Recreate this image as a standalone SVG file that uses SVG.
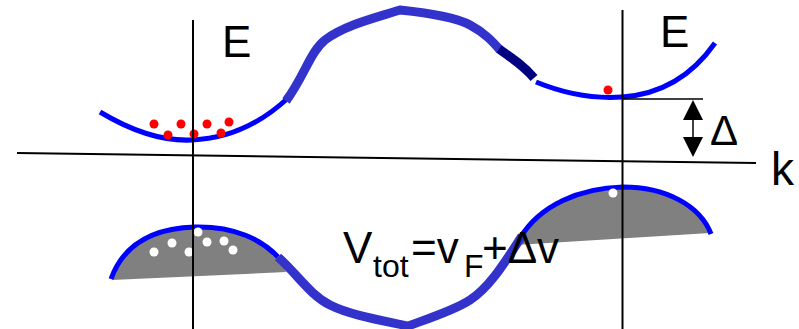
<svg xmlns="http://www.w3.org/2000/svg" width="799" height="329" viewBox="0 0 799 329">
<style>
.band{fill:none;stroke:#0000ff;stroke-width:5;stroke-linecap:butt}
.thick{fill:none;stroke:#3333cc;stroke-width:9;stroke-linejoin:miter}
.navy{fill:none;stroke:#000080;stroke-width:9}
.fill{fill:#808080;stroke:none}
.axis{stroke:#000;stroke-width:2;fill:none}
.ref{stroke:#000;stroke-width:1.5;fill:none}
.red{fill:#ff0000}
.white{fill:#ffffff}
text{font-family:"Liberation Sans",Arial,sans-serif;fill:#000}
</style>
<g id="valence-left">
<path class="fill" d="M112,280 C125,240 160,228 195,227 C235,226 262,240 281,261 L286,272 Z"/>
<path class="band" d="M111,279 C125,240 160,228 195,227 C235,226 262,240 278,257"/>
<circle class="white" cx="154" cy="252" r="4.5"/>
<circle class="white" cx="172" cy="243" r="4.5"/>
<circle class="white" cx="189" cy="252" r="4.5"/>
<circle class="white" cx="198" cy="232" r="4.5"/>
<circle class="white" cx="207" cy="242" r="4.5"/>
<circle class="white" cx="224" cy="241" r="4.5"/>
<circle class="white" cx="233" cy="250" r="4.5"/>
</g>
<g id="valence-right">
<path class="fill" d="M516,245 C535,208 580,190 623,189 C665,189 700,207 710,233 Z"/>
<path class="band" d="M520,238 C540,205 580,188 623,187 C665,187 700,205 711,234"/>
<circle class="white" cx="613" cy="193" r="4.5"/>
</g>
<g id="conduction-left">
<path class="band" d="M100,112 Q150,142 192,140 Q245,138 288,98"/>
<circle class="red" cx="154" cy="124" r="4.5"/>
<circle class="red" cx="168" cy="135" r="4.5"/>
<circle class="red" cx="181" cy="124" r="4.5"/>
<circle class="red" cx="194" cy="134" r="4.5"/>
<circle class="red" cx="207" cy="124" r="4.5"/>
<circle class="red" cx="221" cy="133" r="4.5"/>
<circle class="red" cx="229" cy="122" r="4.5"/>
</g>
<g id="conduction-right">
<path class="band" d="M536,82 Q580,100 622,97 Q680,93 715,43"/>
<circle class="red" cx="608" cy="90" r="4.5"/>
</g>
<g id="connectors">
<path class="thick" d="M286,101 C305,75 310,52 325,40 C345,25 375,18 400,10 C430,13 455,17 470,25 C485,33 493,42 500,50"/>
<path class="navy" d="M499,49 C512,58 524,66 534,78"/>
<path class="thick" d="M278,257 C298,275 310,295 330,305 C350,315 380,320 408,326 C430,318 455,310 470,300 C490,287 505,262 522,236"/>
<line class="axis" x1="17" y1="153" x2="756" y2="163"/>
<line class="axis" x1="193" y1="20" x2="193" y2="329"/>
<line class="axis" x1="622.5" y1="10" x2="622.5" y2="329"/>
<line class="ref" x1="622" y1="99" x2="703" y2="99"/>
<line class="ref" x1="693" y1="115" x2="693" y2="142"/>
<polygon points="693,100 683,120 703,120" fill="#000"/>
<polygon points="693,157 683,137 703,137" fill="#000"/>
</g>
<g id="labels">
<text x="222" y="57" font-size="44">E</text>
<text x="660" y="47" font-size="44">E</text>
<text x="771" y="185" font-size="46">k</text>
<text x="710" y="145" font-size="42">Δ</text>
<text font-size="44"><tspan x="343" y="263">V</tspan><tspan x="373" y="277" font-size="32">tot</tspan><tspan x="411" y="263">=v</tspan><tspan x="464" y="277" font-size="32">F</tspan><tspan x="482" y="263">+Δv</tspan></text>
</g>
</svg>
